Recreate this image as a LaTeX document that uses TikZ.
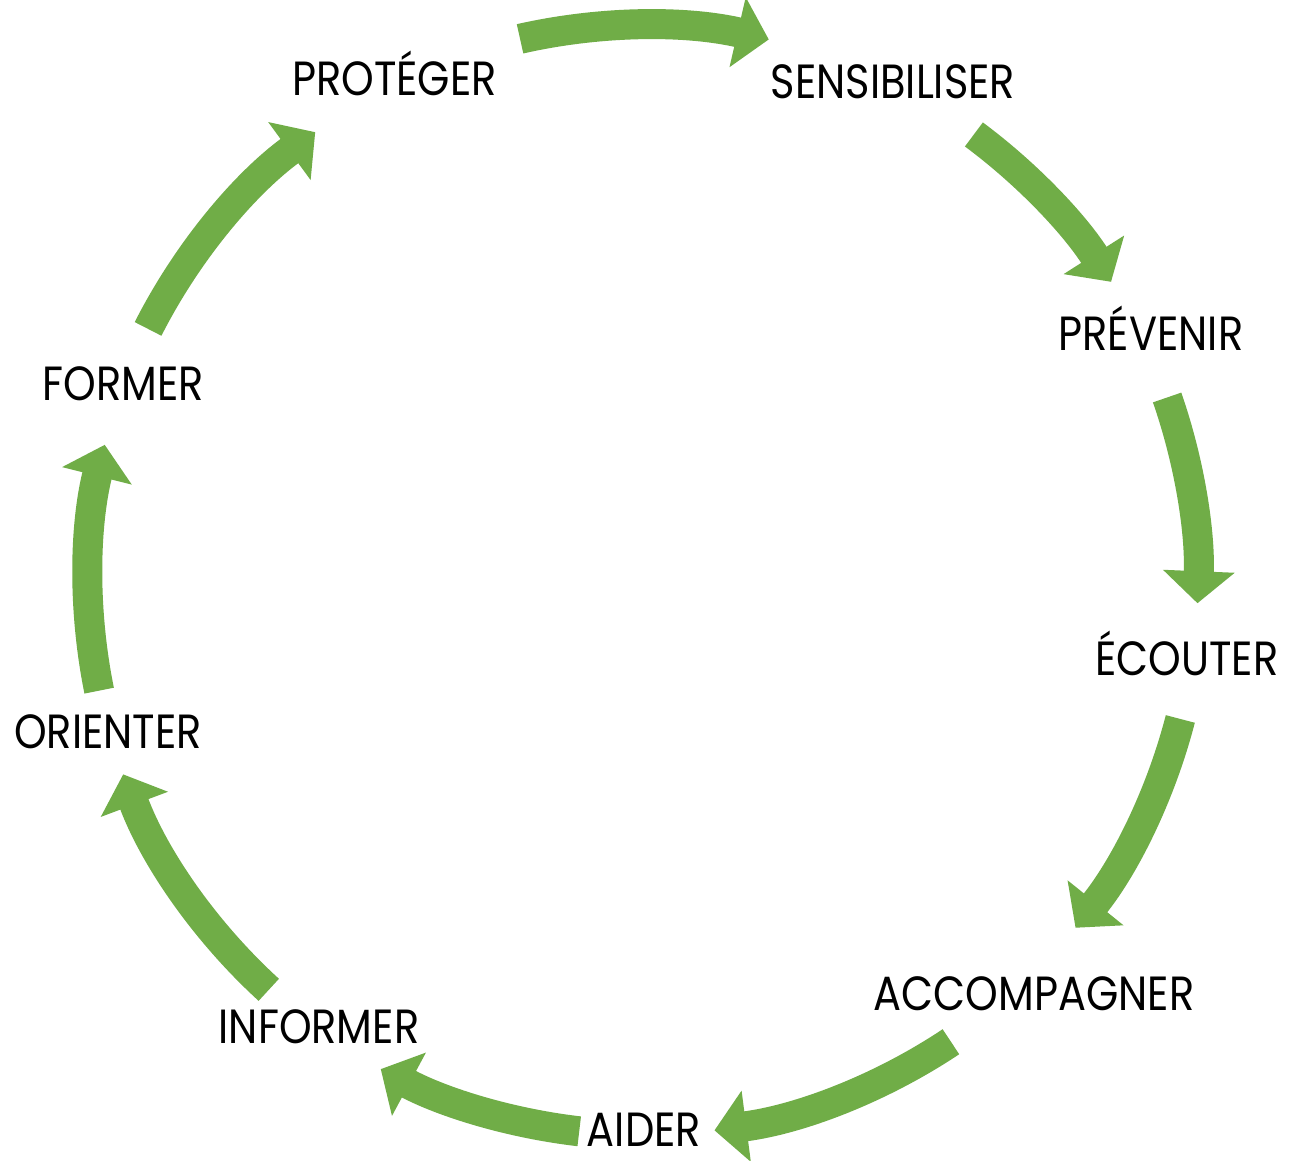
\documentclass[tikz,border=0pt]{standalone}
\usepackage{fontspec}
\setmainfont{Poppins}[FakeStretch=0.865]
\usetikzlibrary{arrows.meta,calc}
\definecolor{vert}{HTML}{70AD47}
\begin{document}
\begin{tikzpicture}[x=1pt,y=-1pt,
  lbl/.style={font=\fontsize{48}{50}\selectfont, inner sep=0pt, anchor=base, text=black},
  arr/.style={draw=vert, line width=30pt, -{Triangle[width=70pt,length=32pt]}}]
\useasboundingbox[fill=white] (0,0) rectangle (1291,1160);
\coordinate (O) at (643,580);
% labels
\node[lbl] (proteger) at (394.5,95) {PROTÉGER};
\node[lbl] (sensib) at (893,98) {SENSIBILISER};
\node[lbl] (prevenir) at (1151,350) {PRÉVENIR};
\node[lbl] (ecouter) at (1187,675) {ÉCOUTER};
\node[lbl] (accomp) at (1034,1010) {ACCOMPAGNER};
\node[lbl] (aider) at (644,1146) {AIDER};
\node[lbl] (informer) at (319,1043) {INFORMER};
\node[lbl] (orienter) at (108,748) {ORIENTER};
\node[lbl] (former) at (123,400) {FORMER};
% arrow start points
\def\R{555}
\coordinate (s1) at ($(O)+(-102.8:\R)$);
\coordinate (s2) at ($(O)+(-53.4:\R)$);
\coordinate (s3) at ($(O)+(-19.2:\R)$);
\coordinate (s4) at ($(O)+(14.5:\R)$);
\coordinate (s5) at ($(O)+(56.3:\R)$);
\coordinate (s6) at ($(O)+(96.6:\R)$);
\coordinate (s7) at ($(O)+(132.4:\R)$);
\coordinate (s8) at ($(O)+(168.5:\R)$);
\coordinate (s9) at ($(O)+(206.9:\R)$);
\draw[arr] (s1) arc[start angle=-102.8, end angle=-76.9, radius=\R];
\draw[arr] (s2) arc[start angle=-53.4, end angle=-32.5, radius=\R];
\draw[arr] (s3) arc[start angle=-19.2, end angle=2.4, radius=\R];
\draw[arr] (s4) arc[start angle=14.5, end angle=38.8, radius=\R];
\draw[arr] (s5) arc[start angle=56.3, end angle=82.6, radius=\R];
\draw[arr] (s6) arc[start angle=96.6, end angle=118.2, radius=\R];
\draw[arr] (s7) arc[start angle=132.4, end angle=159.5, radius=\R];
\draw[arr] (s8) arc[start angle=168.5, end angle=194.1, radius=\R];
\draw[arr] (s9) arc[start angle=206.9, end angle=233.8, radius=\R];
\end{tikzpicture}
\end{document}
